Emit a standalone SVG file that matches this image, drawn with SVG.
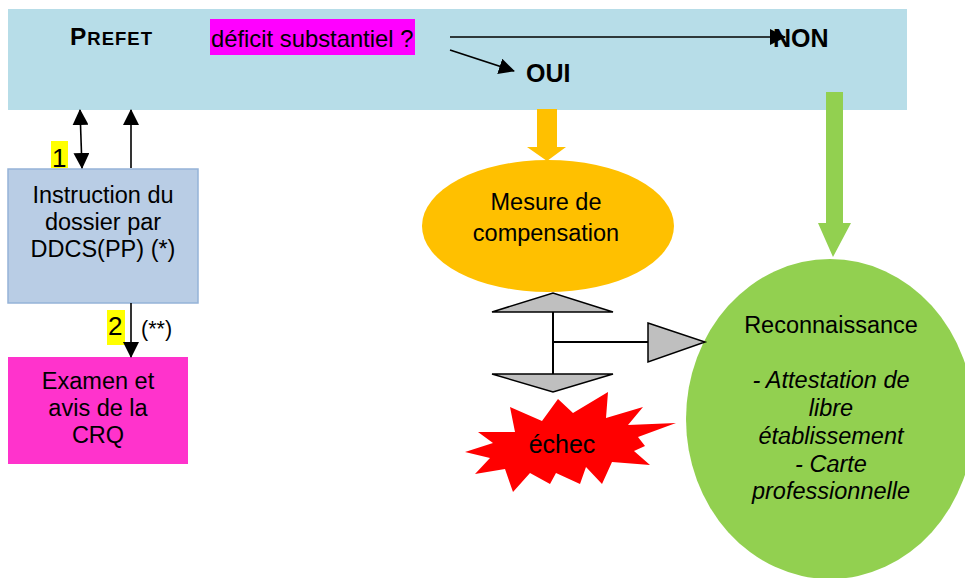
<svg xmlns="http://www.w3.org/2000/svg" width="965" height="578" viewBox="0 0 965 578">
<style>
text{font-family:"Liberation Sans",Arial,sans-serif;fill:#000}
.t{font-size:23.5px;text-anchor:middle}
.b{font-weight:bold}
.i{font-style:italic}
.ln{stroke:#000;stroke-width:1.6;fill:none}
.gray{fill:#BFBFBF;stroke:#000;stroke-width:1.5;stroke-linejoin:miter}
</style>
<defs>
<marker id="ah" markerUnits="userSpaceOnUse" viewBox="0 0 16 16" refX="15" refY="8" markerWidth="16" markerHeight="16" orient="auto-start-reverse">
<path d="M0,0 L16,8 L0,16 Z" fill="#000"/>
</marker>
</defs>

<g id="prefet">
<rect x="8" y="9" width="899" height="101" fill="#B7DDE8"/>
<text x="70" y="45" class="b" style="font-size:24.5px;letter-spacing:1px">P<tspan style="font-size:18.5px">REFET</tspan></text>
<rect x="210" y="19" width="205" height="36" fill="#FF00FF"/>
<text x="211" y="47" style="font-size:23.8px">déficit substantiel ?</text>
<text x="773" y="47" class="b" style="font-size:25px">NON</text>
<text x="526" y="82" class="b" style="font-size:25px">OUI</text>
</g>

<g id="instruction">
<rect x="8" y="169" width="190" height="134" fill="#B9CDE5" stroke="#95B3D7" stroke-width="1.5"/>
<text class="t" x="103" y="203">Instruction du</text>
<text class="t" x="103" y="230">dossier par</text>
<text class="t" x="103" y="257">DDCS(PP) (*)</text>
</g>

<g id="crq">
<rect x="8" y="357" width="180" height="107" fill="#FF33CC"/>
<text class="t" x="98" y="389">Examen et</text>
<text class="t" x="98" y="416">avis de la</text>
<text class="t" x="98" y="443">CRQ</text>
</g>

<g id="labels">
<rect x="51" y="141" width="17" height="27" fill="#FFFF00"/>
<text x="52" y="167" style="font-size:26px">1</text>
<rect x="107" y="310" width="18" height="35" fill="#FFFF00"/>
<text x="108" y="335" style="font-size:26px">2</text>
<text x="141" y="336" style="font-size:21.5px">(**)</text>
</g>

<g id="mesure">
<ellipse cx="548" cy="226" rx="126" ry="66" fill="#FFC000"/>
<text class="t" x="546" y="210">Mesure de</text>
<text class="t" x="546" y="241">compensation</text>
</g>

<g id="reconnaissance">
<ellipse cx="830" cy="419" rx="144" ry="160" fill="#92D050"/>
<text class="t" x="831" y="333">Reconnaissance</text>
<text class="t i" x="831" y="388">- Attestation de</text>
<text class="t i" x="831" y="416">libre</text>
<text class="t i" x="831" y="444">établissement</text>
<text class="t i" x="831" y="472">- Carte</text>
<text class="t i" x="831" y="499">professionnelle</text>
</g>

<g id="echec">
<polygon fill="#FF0000" points="510,407 542,421 558,399 573,413 608,392 606,418 643,407 628,425 676,423 638,437 645,446 634,451 650,465 612,462 602,484 586,467 580,484 556,473 550,484 530,473 513,492 505,469 475,474 490,458 465,452 493,443 478,432 515,432"/>
<text x="562" y="453" style="font-size:25px;text-anchor:middle">échec</text>
</g>

<g id="connectors">
<line class="ln" x1="450" y1="37" x2="785" y2="37" marker-end="url(#ah)"/>
<line class="ln" x1="450" y1="50" x2="514" y2="71" marker-end="url(#ah)"/>
<line class="ln" x1="80" y1="110" x2="82" y2="168" marker-start="url(#ah)" marker-end="url(#ah)"/>
<line class="ln" x1="131" y1="168" x2="131" y2="110" marker-end="url(#ah)"/>
<line class="ln" x1="131" y1="303" x2="131" y2="357" marker-end="url(#ah)"/>
<polygon fill="#FFC000" points="537,109 557,109 557,147 566,147 547,161 527,147 537,147"/>
<polygon fill="#92D050" points="826,92 843,92 843,223 851,223 833,257 818,223 826,223"/>
<polygon class="gray" points="492,312 553,293 613,312"/>
<polygon class="gray" points="492,374 613,374 553,392"/>
<line class="ln" x1="553" y1="312" x2="553" y2="374" style="stroke-width:2"/>
<line class="ln" x1="553" y1="342" x2="648" y2="342" style="stroke-width:2"/>
<polygon class="gray" points="648,323 705,342 648,362"/>
</g>
</svg>
